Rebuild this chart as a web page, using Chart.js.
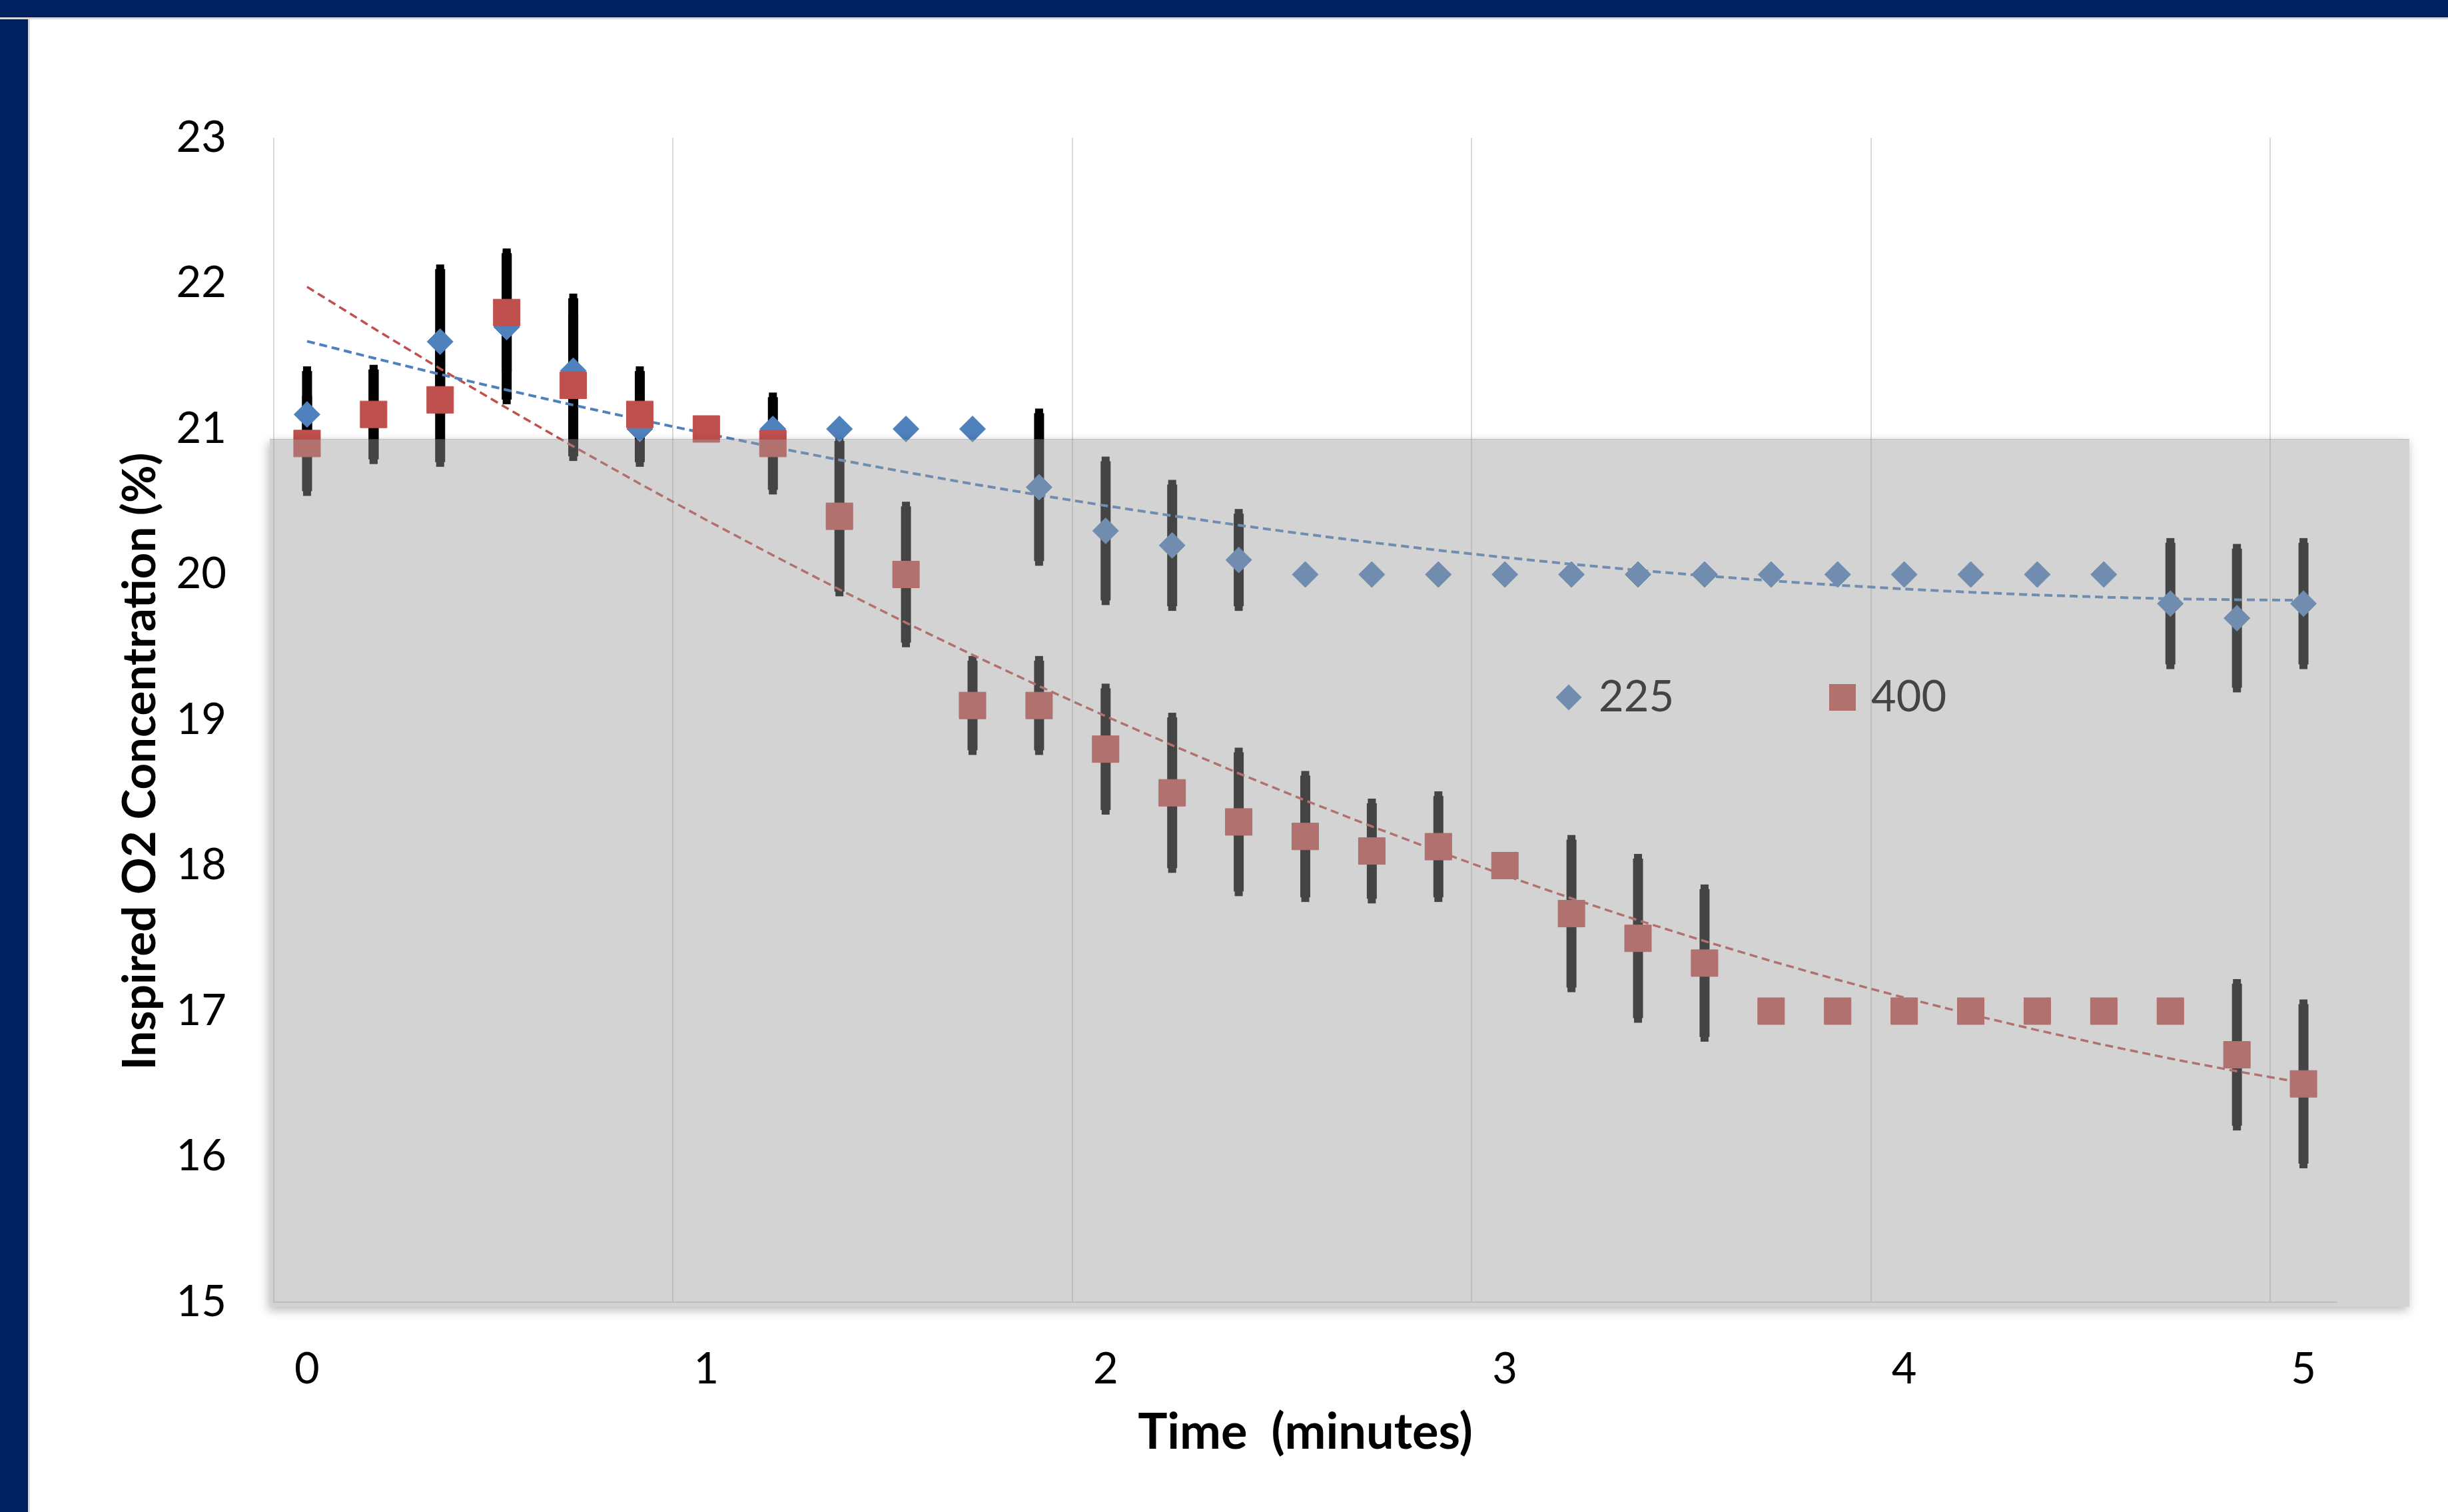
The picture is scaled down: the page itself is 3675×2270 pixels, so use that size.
<!DOCTYPE html>
<html>
<head>
<meta charset="utf-8">
<title>Inspired O2 Concentration</title>
<script src="https://cdn.jsdelivr.net/npm/chart.js@4.4.1/dist/chart.umd.min.js"></script>
<style>
  html, body { margin: 0; padding: 0; background: #fff; overflow: hidden; }
  #wrap { position: relative; width: 3675px; height: 2270px; }
  #chart { position: absolute; left: 0; top: 0; }
  .bar-top { position: absolute; left: 0; top: 0; width: 3675px; height: 26px; background: #002060; border-bottom: 3px solid #d9d9d9; }
  .bar-left { position: absolute; left: 0; top: 0; width: 42px; height: 2270px; background: #002060; border-right: 3px solid #d9d9d9; }
</style>
</head>
<body>
<div id="wrap">
  <canvas id="chart" width="3675" height="2270"></canvas>
  <div class="bar-left"></div>
  <div class="bar-top"></div>
</div>
<script>
// time of each reading, seconds (one category per reading)
var timeSeconds = [0, 10, 20, 30, 40, 50, 60, 70, 80, 90, 100, 110, 120, 130, 140, 150,
                   160, 170, 180, 190, 200, 210, 220, 230, 240, 250, 260, 270, 280, 290, 300];
var xTickLabels = ['0', '1', '2', '3', '4', '5'];
var yTickLabels = ['15', '16', '17', '18', '19', '20', '21', '22', '23'];

// series "225"
var series225 = [21.1, 21.1, 21.6, 21.7, 21.4, 21.0, 21.0, 21.0, 21.0, 21.0, 21.0, 20.6, 20.3, 20.2, 20.1, 20.0,
                 20.0, 20.0, 20.0, 20.0, 20.0, 20.0, 20.0, 20.0, 20.0, 20.0, 20.0, 20.0, 19.8, 19.7, 19.8];
var err225    = [0.33, 0.34, 0.53, 0.53, 0.53, 0.26, 0, 0, 0, 0, 0, 0.54, 0.51, 0.45, 0.35, 0,
                 0, 0, 0, 0, 0, 0, 0, 0, 0, 0, 0, 0, 0.45, 0.51, 0.45];

// series "400"
var series400 = [20.9, 21.1, 21.2, 21.8, 21.3, 21.1, 21.0, 20.9, 20.4, 20.0, 19.1, 19.1, 18.8, 18.5, 18.3, 18.2,
                 18.1, 18.13, 18.0, 17.67, 17.5, 17.33, 17.0, 17.0, 17.0, 17.0, 17.0, 17.0, 17.0, 16.7, 16.5];
var err400    = [0.36, 0.34, 0.46, 0.44, 0.52, 0.33, 0, 0.35, 0.55, 0.5, 0.34, 0.34, 0.45, 0.55, 0.51, 0.45,
                 0.36, 0.38, 0, 0.54, 0.58, 0.54, 0, 0, 0, 0, 0, 0, 0, 0.52, 0.58];

var BLUE = '#4F81BD';
var RED = '#C0504D';
var FONT = 'Lato';

// least squares polynomial, like the excel trendline
function polyFit(xs, ys, deg) {
	var n = deg + 1;
	var A = [];
	for (var i = 0; i < n; i++) { A.push(new Array(n + 1).fill(0)); }
	for (var k = 0; k < xs.length; k++) {
		for (var i = 0; i < n; i++) {
			for (var j = 0; j < n; j++) { A[i][j] += Math.pow(xs[k], i + j); }
			A[i][n] += ys[k] * Math.pow(xs[k], i);
		}
	}
	for (var i = 0; i < n; i++) {
		for (var r = 0; r < n; r++) {
			if (r === i) continue;
			var f = A[r][i] / A[i][i];
			for (var c = i; c <= n; c++) { A[r][c] -= f * A[i][c]; }
		}
	}
	return A.map(function (row, i) { return row[n] / row[i]; });
}

function trendOf(vals) {
	var xs = timeSeconds.map(function (s) { return s / 60; });
	var co = polyFit(xs, vals, 2);
	return xs.map(function (x) { return co[0] + co[1] * x + co[2] * x * x; });
}

var errorBars = {
	id: 'errorBars',
	beforeDatasetsDraw: function (chart) {
		var ctx = chart.ctx, x = chart.scales.x, y = chart.scales.y;
		ctx.save();
		ctx.fillStyle = '#000';
		[[series225, err225], [series400, err400]].forEach(function (s) {
			s[0].forEach(function (v, i) {
				var e = s[1][i];
				if (!e) return;
				var px = x.getPixelForValue(i);
				var top = y.getPixelForValue(v + e);
				var bot = y.getPixelForValue(v - e);
				ctx.fillRect(px - 7.5, top + 7, 15, bot - top - 14);
				ctx.fillRect(px - 6, top, 12, 8);
				ctx.fillRect(px - 6, bot - 8, 12, 8);
			});
		});
		ctx.restore();
	}
};

var legendAndShade = {
	id: 'legendAndShade',
	afterDraw: function (chart) {
		var ctx = chart.ctx, area = chart.chartArea, y = chart.scales.y;

		// legend sits inside the plot
		var items = [
			{ ds: chart.data.datasets[1], dx: 1944, textGap: 45 },
			{ ds: chart.data.datasets[0], dx: 2355, textGap: 43 }
		];
		var ly = area.top + 840;
		items.forEach(function (it) {
			var cx = area.left + it.dx;
			ctx.save();
			ctx.fillStyle = it.ds.backgroundColor;
			ctx.strokeStyle = it.ds.borderColor;
			Chart.helpers.drawPoint(ctx, { pointStyle: it.ds.pointStyle, radius: it.ds.pointRadius, borderWidth: 0, rotation: 0 }, cx, ly);
			ctx.fillStyle = '#000';
			ctx.font = '65px ' + FONT;
			ctx.textAlign = 'left';
			ctx.textBaseline = 'middle';
			ctx.fillText(it.ds.label, cx + it.textGap, ly);
			ctx.restore();
		});

		// y axis title
		ctx.save();
		ctx.translate(area.left - 200, (area.top + area.bottom) / 2 + 62);
		ctx.rotate(-Math.PI / 2);
		ctx.fillStyle = '#000';
		ctx.font = 'bold 69px ' + FONT;
		ctx.textAlign = 'center';
		ctx.textBaseline = 'middle';
		ctx.fillText('Inspired O2 Concentration (%)', 0, 0);
		ctx.restore();

		// grey shaded box over the lower part of the plot
		var left = area.left - 6, right = area.right + 109;
		var top = y.getPixelForValue(20.93), bottom = area.bottom + 7;
		ctx.save();
		ctx.beginPath();
		ctx.rect(0, 0, chart.width, chart.height);
		ctx.rect(left, top, right - left, bottom - top);
		ctx.clip('evenodd');
		ctx.shadowColor = 'rgba(0,0,0,0.28)';
		ctx.shadowBlur = 14;
		ctx.shadowOffsetX = -2;
		ctx.shadowOffsetY = 5;
		ctx.fillStyle = '#000';
		ctx.fillRect(left, top, right - left, bottom - top);
		ctx.restore();
		ctx.save();
		ctx.fillStyle = 'rgba(155,155,155,0.44)';
		ctx.fillRect(left, top, right - left, bottom - top);
		ctx.restore();
	}
};

Chart.defaults.font.family = FONT;
Chart.defaults.color = '#000';

new Chart(document.getElementById('chart'), {
	type: 'line',
	data: {
		labels: timeSeconds,
		datasets: [
			{ label: '400', data: series400, showLine: false, pointStyle: 'rect', pointRadius: 28.3,
			  backgroundColor: RED, borderColor: RED, pointBorderWidth: 1, order: 1 },
			{ label: '225', data: series225, showLine: false, pointStyle: 'rectRot', pointRadius: 19.5,
			  backgroundColor: BLUE, borderColor: BLUE, pointBorderWidth: 1, order: 2 },
			{ label: 'trend 225', data: trendOf(series225), borderColor: BLUE, borderWidth: 4,
			  borderDash: [12, 7], pointRadius: 0, fill: false, order: 3 },
			{ label: 'trend 400', data: trendOf(series400), borderColor: RED, borderWidth: 3.5,
			  borderDash: [12, 7], pointRadius: 0, fill: false, order: 4 }
		]
	},
	options: {
		responsive: false,
		animation: false,
		devicePixelRatio: 1,
		events: [],
		layout: { padding: { top: 207, right: 167, bottom: 0, left: 0 } },
		plugins: { legend: { display: false }, tooltip: { enabled: false } },
		scales: {
			x: {
				type: 'category',
				offset: true,
				afterFit: function (s) { s.height = 315; },
				grid: {
					offset: true,
					drawTicks: false,
					lineWidth: 2,
					color: function (c) { return c.index % 6 === 0 ? '#d9d9d9' : 'rgba(0,0,0,0)'; }
				},
				border: { color: '#d9d9d9', width: 2 },
				ticks: {
					autoSkip: false,
					maxRotation: 0,
					padding: 62,
					font: { size: 65 },
					color: '#000',
					callback: function (v, i) {
						var s = timeSeconds[i];
						return s % 60 === 0 ? xTickLabels[s / 60] : '';
					}
				},
				title: {
					display: true,
					text: 'Time  (minutes)',
					font: { size: 74, weight: 'bold' },
					color: '#000',
					padding: { top: 0, bottom: 74 }
				}
			},
			y: {
				min: 15,
				max: 23,
				afterFit: function (s) { s.width = 411; },
				grid: { display: false, drawTicks: false },
				border: { display: false },
				ticks: {
					stepSize: 1,
					padding: 71,
					font: { size: 65 },
					color: '#000',
					callback: function (v) { return yTickLabels[v - 15]; }
				}
			}
		}
	},
	plugins: [errorBars, legendAndShade]
});
</script>
</body>
</html>
